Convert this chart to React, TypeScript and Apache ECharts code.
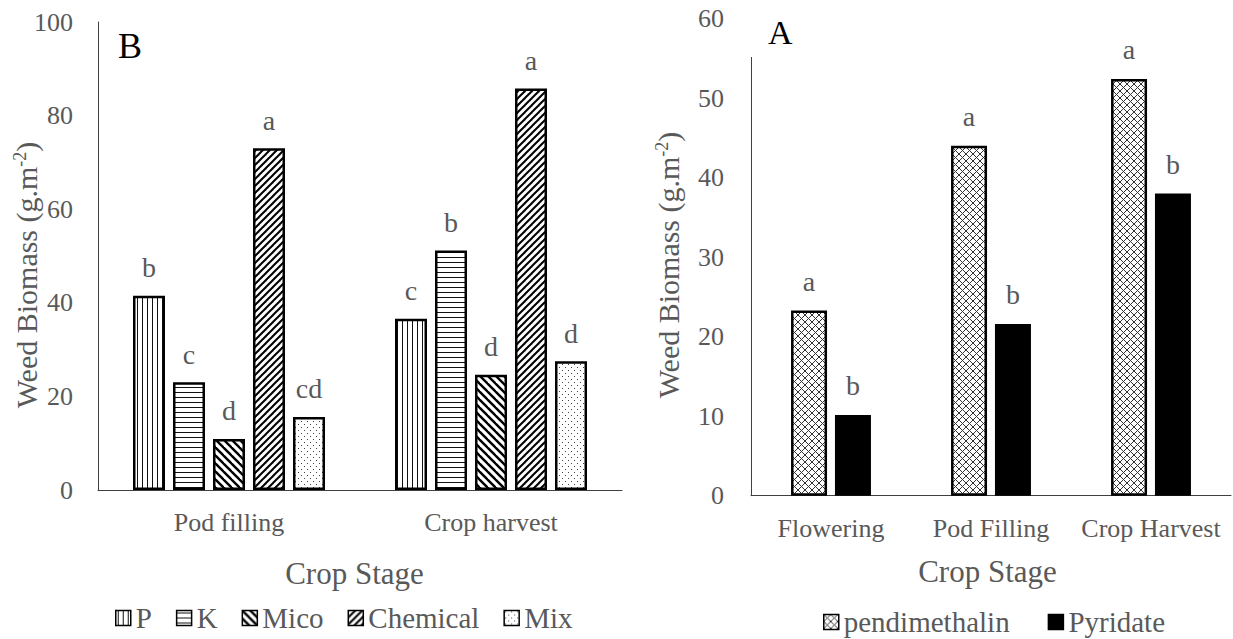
import React, { useEffect, useRef } from 'react';
import * as echarts from 'echarts';

// ---------- data ----------
const STAGES_B = ['Pod filling', 'Crop harvest'];
const SERIES_B = ['P', 'K', 'Mico', 'Chemical', 'Mix'];
const P_VALUES = [41.5, 36.6];
const K_VALUES = [23.0, 51.2];
const MICO_VALUES = [10.9, 24.6];
const CHEM_VALUES = [73.0, 85.8];
const MIX_VALUES = [15.6, 27.5];
const P_LETTERS = ['b', 'c'];
const K_LETTERS = ['c', 'b'];
const MICO_LETTERS = ['d', 'd'];
const CHEM_LETTERS = ['a', 'a'];
const MIX_LETTERS = ['cd', 'd'];
const B_TICKS = { min: 0, max: 100, interval: 20 };

const STAGES_A = ['Flowering', 'Pod Filling', 'Crop Harvest'];
const SERIES_A = ['pendimethalin', 'Pyridate'];
const PEND_VALUES = [23.3, 44.0, 52.4];
const PYR_VALUES = [10.15, 21.6, 38.0];
const PEND_LETTERS = ['a', 'a', 'a'];
const PYR_LETTERS = ['b', 'b', 'b'];
const A_TICKS = { min: 0, max: 60, interval: 10 };

// ---------- styles ----------
const FONT = '"Liberation Serif", "Times New Roman", serif';
const GRAY = '#595959';
const AXIS = '#404040';

function makeTile(kind: string) {
  const c = document.createElement('canvas');
  let w = 5;
  let h = 5;
  if (kind === 'back') { w = 8; h = 8; }
  if (kind === 'fwd') { w = 7; h = 7; }
  if (kind === 'dots') { w = 6; h = 6; }
  if (kind === 'cross') { w = 7; h = 7; }
  c.width = w;
  c.height = h;
  const ctx = c.getContext('2d')!;
  ctx.fillStyle = '#fff';
  ctx.fillRect(0, 0, w, h);
  if (kind === 'vlines') {
    ctx.fillStyle = '#111';
    ctx.fillRect(2, 0, 1, h);
  } else if (kind === 'hlines') {
    ctx.fillStyle = '#111';
    ctx.fillRect(0, 2, w, 1);
  } else if (kind === 'back') {
    ctx.strokeStyle = '#000';
    ctx.lineWidth = 2.4;
    for (const k of [-w, 0, w]) {
      ctx.beginPath();
      ctx.moveTo(k - 1, -1);
      ctx.lineTo(k + w + 1, h + 1);
      ctx.stroke();
    }
  } else if (kind === 'fwd') {
    ctx.strokeStyle = '#000';
    ctx.lineWidth = 2;
    for (const k of [-w, 0, w]) {
      ctx.beginPath();
      ctx.moveTo(k - 1, h + 1);
      ctx.lineTo(k + w + 1, -1);
      ctx.stroke();
    }
  } else if (kind === 'dots') {
    ctx.fillStyle = '#444';
    ctx.fillRect(1, 1, 1, 1);
    ctx.fillRect(4, 4, 1, 1);
  } else if (kind === 'cross') {
    ctx.strokeStyle = '#333';
    ctx.lineWidth = 1;
    ctx.beginPath();
    ctx.moveTo(-1, -1);
    ctx.lineTo(w + 1, h + 1);
    ctx.moveTo(-1, h + 1);
    ctx.lineTo(w + 1, -1);
    ctx.stroke();
  }
  return { image: c.toDataURL(), repeat: 'repeat', imageWidth: w, imageHeight: h };
}

export default function App() {
  const ref = useRef<HTMLDivElement>(null);

  useEffect(() => {
    if (!ref.current) return;
    const chart = echarts.init(ref.current, undefined, { renderer: 'svg' });

    const labelStyle = (letters: string[], distance: number) => ({
      show: true,
      position: 'top',
      distance,
      color: GRAY,
      fontSize: 28,
      fontFamily: FONT,
      formatter: (p: any) => letters[p.dataIndex],
    });

    const bSeries = [
      { name: 'P', data: P_VALUES, letters: P_LETTERS, fill: makeTile('vlines') },
      { name: 'K', data: K_VALUES, letters: K_LETTERS, fill: makeTile('hlines') },
      { name: 'Mico', data: MICO_VALUES, letters: MICO_LETTERS, fill: makeTile('back') },
      { name: 'Chemical', data: CHEM_VALUES, letters: CHEM_LETTERS, fill: makeTile('fwd') },
      { name: 'Mix', data: MIX_VALUES, letters: MIX_LETTERS, fill: makeTile('dots') },
    ].map((s) => ({
      type: 'bar',
      name: s.name,
      xAxisIndex: 0,
      yAxisIndex: 0,
      data: s.data,
      barWidth: 32,
      barGap: '25%',
      itemStyle: { color: s.fill, borderColor: '#000', borderWidth: 2.5 },
      label: labelStyle(s.letters, 14),
    }));

    const aSeries = [
      { name: 'pendimethalin', data: PEND_VALUES, letters: PEND_LETTERS, fill: makeTile('cross'), bw: 2.5 },
      { name: 'Pyridate', data: PYR_VALUES, letters: PYR_LETTERS, fill: '#000', bw: 0 },
    ].map((s) => ({
      type: 'bar',
      name: s.name,
      xAxisIndex: 1,
      yAxisIndex: 1,
      data: s.data,
      barWidth: 36,
      barGap: '22%',
      itemStyle: { color: s.fill, borderColor: '#000', borderWidth: s.bw },
      label: labelStyle(s.letters, 15),
    }));

    const catAxis = (gridIndex: number, data: string[], margin: number) => ({
      type: 'category',
      gridIndex,
      data,
      axisTick: { show: false },
      axisLine: { show: true, lineStyle: { color: AXIS, width: 1 } },
      axisLabel: { color: GRAY, fontSize: 26, fontFamily: FONT, margin, interval: 0 },
    });
    const valAxis = (gridIndex: number, t: any, margin: number) => ({
      type: 'value',
      gridIndex,
      min: t.min,
      max: t.max,
      interval: t.interval,
      axisLine: { show: true, lineStyle: { color: AXIS, width: 1 } },
      axisTick: { show: false },
      splitLine: { show: false },
      axisLabel: { color: GRAY, fontSize: 26, fontFamily: FONT, margin },
    });

    const legendBase = {
      orient: 'horizontal',
      icon: 'rect',
      itemWidth: 15,
      itemHeight: 15,
      padding: 0,
      textStyle: { color: GRAY, fontSize: 29, fontFamily: FONT },
      itemStyle: { borderColor: '#000', borderWidth: 1.5 },
    };

    const yTitle = (x: number, y: number) => ({
      type: 'text',
      x,
      y,
      rotation: Math.PI / 2,
      style: {
        text: 'Weed Biomass (g.m{sup|-2})',
        fontSize: 30,
        fontFamily: FONT,
        fill: GRAY,
        align: 'center',
        verticalAlign: 'middle',
        rich: {
          sup: { fontSize: 18, fontFamily: FONT, fill: GRAY, padding: [0, 0, 12, 0] },
        },
      },
    });
    const xTitle = (x: number, y: number) => ({
      type: 'text',
      x,
      y,
      style: {
        text: 'Crop Stage',
        fontSize: 31,
        fontFamily: FONT,
        fill: GRAY,
        align: 'center',
        verticalAlign: 'middle',
      },
    });

    chart.setOption({
      animation: false,
      textStyle: { fontFamily: FONT },
      grid: [
        { left: 98, right: 611, top: 22, bottom: 149 },
        { left: 751, right: 2, top: 18.5, bottom: 143.3 },
      ],
      xAxis: [catAxis(0, STAGES_B, 19), catAxis(1, STAGES_A, 20)],
      yAxis: [valAxis(0, B_TICKS, 25), valAxis(1, A_TICKS, 27)],
      legend: [
        { ...legendBase, data: SERIES_B, left: 115, top: 603.5, itemGap: 24 },
        { ...legendBase, data: SERIES_A, left: 823, top: 607.5, itemGap: 38 },
      ],
      series: [...bSeries, ...aSeries],
      graphic: [
        { type: 'rect', z: 100, shape: { x: 744, y: 0, width: 14, height: 57 }, style: { fill: '#fff' } },
        {
          type: 'text', x: 118, y: 45.5,
          style: { text: 'B', fontSize: 36, fontFamily: FONT, fill: '#000', align: 'left', verticalAlign: 'middle' },
        },
        {
          type: 'text', x: 768, y: 32.5,
          style: { text: 'A', fontSize: 34, fontFamily: FONT, fill: '#000', align: 'left', verticalAlign: 'middle' },
        },
        yTitle(26, 275),
        yTitle(668, 265),
        xTitle(354.5, 573),
        xTitle(987.5, 571),
      ],
    });

    return () => chart.dispose();
  }, []);

  return (
    <div
      ref={ref}
      style={{ position: 'fixed', left: 0, top: 0, width: 1233, height: 639, background: '#fff' }}
    />
  );
}
